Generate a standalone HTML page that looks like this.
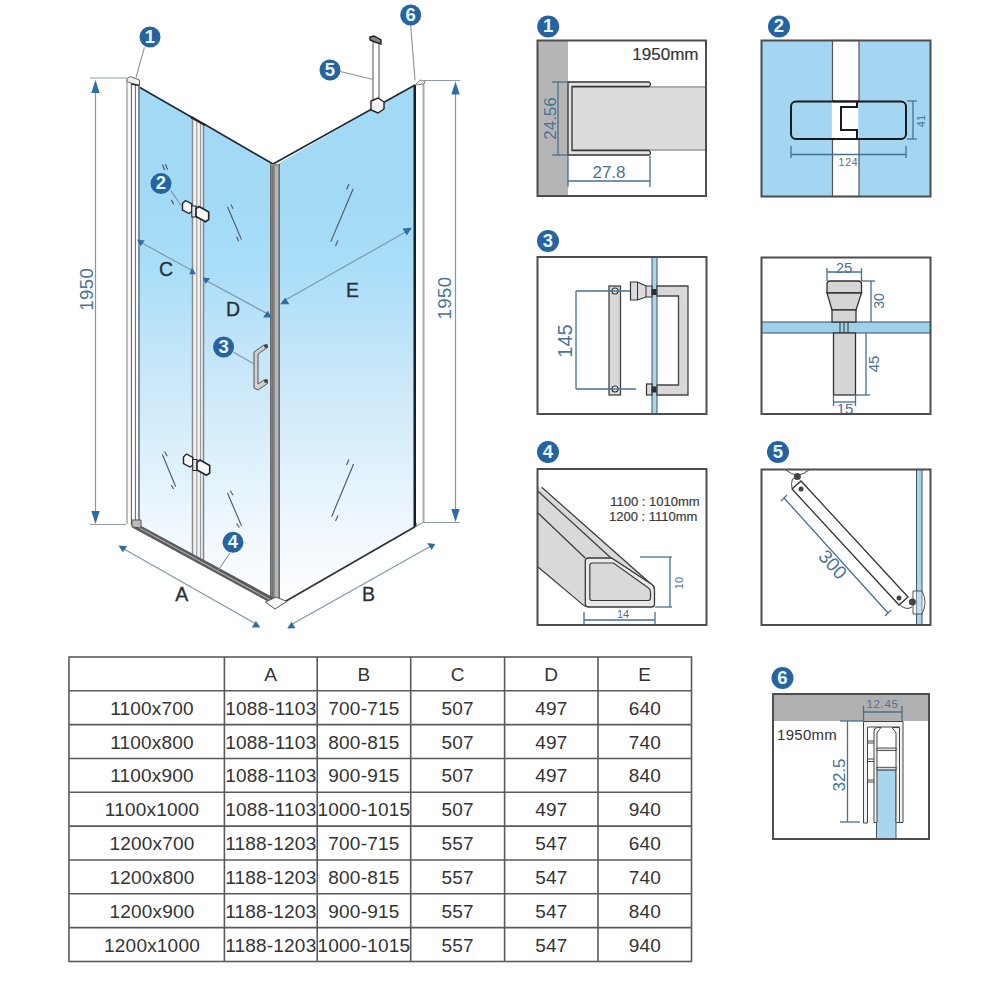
<!DOCTYPE html>
<html><head><meta charset="utf-8">
<style>
html,body{margin:0;padding:0;background:#fff;width:1000px;height:1000px;overflow:hidden}
svg{display:block;font-family:"Liberation Sans",sans-serif}
.dim{stroke:#46708f;stroke-width:1.3;fill:none}
.dimm{stroke:#7f98aa;stroke-width:1.2;fill:none}
.ah{fill:#2f6ea3}
.lab{font-size:19.5px;fill:#2a3038;stroke:#2a3038;stroke-width:0.3;text-anchor:middle}
.dt{fill:#4a7394;text-anchor:middle}
.ld{stroke:#87939b;stroke-width:1.1;fill:none}
.bd{fill:#26639f}
.bt{fill:#e8f8ff;font-weight:bold;font-size:18.5px;text-anchor:middle}
.pb{fill:none;stroke:#4d4d4d;stroke-width:2}
.tl{stroke:#5a5a5a;stroke-width:1.6}
.tt{font-size:19px;fill:#333;text-anchor:middle;letter-spacing:0.2px}
</style></head>
<body>
<svg width="1000" height="1000" viewBox="0 0 1000 1000">
<defs>
<linearGradient id="gl" gradientUnits="userSpaceOnUse" x1="0" y1="200" x2="0" y2="600">
<stop offset="0" stop-color="#a2daf5"/>
<stop offset="0.175" stop-color="#aadef8"/>
<stop offset="0.4625" stop-color="#cce8f9"/>
<stop offset="0.6625" stop-color="#dff1fc"/>
<stop offset="0.8625" stop-color="#f4f9fe"/>
<stop offset="1" stop-color="#fdfeff"/>
</linearGradient>
</defs>

<!-- ============ MAIN DIAGRAM ============ -->
<!-- glass panels -->
<polygon points="139,87 193,118 193,557 139,527" fill="url(#gl)"/>
<polygon points="204,124 271,163 271,600 204,563" fill="url(#gl)"/>
<polygon points="274,166 415,85 415,526.7 274,608" fill="url(#gl)"/>
<!-- top edges -->
<polyline points="139,87 193,118" stroke="#1f2d38" stroke-width="1.7" fill="none"/>
<polyline points="204,124 273,164 415,85" stroke="#1f2d38" stroke-width="1.7" fill="none"/>
<line x1="280" y1="604.5" x2="415" y2="526.7" stroke="#333" stroke-width="1.8"/>
<line x1="415" y1="85" x2="415" y2="527" stroke="#15202a" stroke-width="3"/>

<!-- left wall profile -->
<rect x="127" y="82" width="13" height="443" fill="#fafafa"/>
<line x1="127" y1="80" x2="127" y2="524" stroke="#a0a0a0" stroke-width="1.3"/>
<line x1="131.4" y1="84" x2="131.4" y2="525" stroke="#5a5a5a" stroke-width="1"/>
<line x1="135.4" y1="84" x2="135.4" y2="526" stroke="#666" stroke-width="1"/>
<line x1="139" y1="86" x2="139" y2="527" stroke="#4f6a7e" stroke-width="1.5"/>
<polygon points="127,78.5 130.5,76.5 139.5,80 139.5,85.5 131,83 127,81.5" fill="#f0f0f0" stroke="#666" stroke-width="1"/>
<line x1="131" y1="84" x2="139.5" y2="85.5" stroke="#333" stroke-width="1.3"/>

<!-- hinge profile -->
<polygon points="192,118 204,125 204,565 192,558" fill="#f2f2f2"/>
<line x1="192.5" y1="118" x2="192.5" y2="558" stroke="#8a8a8a" stroke-width="1.5"/>
<line x1="196.8" y1="120" x2="196.8" y2="560" stroke="#8f8f8f" stroke-width="1"/>
<line x1="200.5" y1="122" x2="200.5" y2="562" stroke="#9a9a9a" stroke-width="1.2"/>
<line x1="203.5" y1="124" x2="203.5" y2="564" stroke="#7a8894" stroke-width="1.5"/>
<line x1="191" y1="117" x2="205" y2="125" stroke="#222" stroke-width="2.5"/>

<!-- corner post -->
<rect x="270" y="164" width="10" height="438" fill="#8c8c8c"/>
<line x1="276.5" y1="166" x2="276.5" y2="602" stroke="#b4b4b4" stroke-width="3"/>
<line x1="272.5" y1="166" x2="272.5" y2="602" stroke="#737373" stroke-width="2"/>
<line x1="270.5" y1="164" x2="270.5" y2="602" stroke="#6a6a6a" stroke-width="1"/>
<line x1="279.5" y1="164" x2="279.5" y2="602" stroke="#6a6a6a" stroke-width="1"/>

<!-- right wall profile -->
<rect x="416" y="82" width="8" height="441" fill="#fff"/>
<line x1="423.5" y1="82" x2="423.5" y2="522" stroke="#aaa" stroke-width="2"/>
<polygon points="415,85 420,80 425,81 424,84" fill="#eee" stroke="#888" stroke-width="1"/>
<line x1="415" y1="527" x2="424" y2="522" stroke="#888" stroke-width="1"/>

<!-- sill (4) -->
<polygon points="133,521.5 278,600 278,607 133,528" fill="#5a5a5a"/>
<line x1="134" y1="525" x2="277" y2="603.5" stroke="#a8a8a8" stroke-width="1.2"/>
<polygon points="132,520 141,520 141,528 132,527" fill="#bbb" stroke="#555" stroke-width="1"/>
<polygon points="265.5,602 276,597 287,601.5 275,609" fill="#f6f6f6" stroke="#555" stroke-width="1"/>

<!-- hatch marks -->
<g stroke="#4b5660" stroke-width="1.1" fill="none">
<line x1="162.4" y1="164.5" x2="164.6" y2="170"/><line x1="165.4" y1="164" x2="167.6" y2="169.5"/>
<line x1="171.5" y1="199.7" x2="173.6" y2="204.2"/>
<line x1="227.5" y1="206.7" x2="241.5" y2="239.6"/><line x1="231" y1="204.4" x2="233" y2="208.9"/><line x1="236.6" y1="236.7" x2="238.7" y2="241.2"/>
<line x1="353.2" y1="188.8" x2="330.8" y2="241.6"/><line x1="346.5" y1="189.5" x2="349" y2="184"/><line x1="335.5" y1="246" x2="338" y2="240.5"/>
<line x1="162.4" y1="454.5" x2="175.7" y2="486.7"/><line x1="164.5" y1="451.5" x2="167.3" y2="456.2"/><line x1="171.3" y1="485" x2="173.6" y2="489"/>
<line x1="227.5" y1="493" x2="241.5" y2="525.9"/><line x1="230.3" y1="490.8" x2="233.1" y2="495.3"/><line x1="236.6" y1="523.6" x2="239.4" y2="527.5"/>
<line x1="353.6" y1="464" x2="331.6" y2="516.8"/><line x1="346.5" y1="465" x2="349" y2="459.5"/><line x1="335.5" y1="521" x2="338" y2="515.5"/>
</g>

<!-- hinges (2) -->
<polygon points="182.5,203.5 185.5,200.5 191.8,204.0 191.8,211.5 189.0,213.5 182.5,210.0" fill="#f6f6f6" stroke="#1f262c" stroke-width="1.4"/>
<rect x="191.8" y="206" width="4.2" height="11" fill="#e8e8e8" stroke="#1f262c" stroke-width="1"/>
<polygon points="196.0,208.5 199.0,206.5 208.7,212.0 208.7,219.5 205.5,221.8 196.0,216.5" fill="#f6f6f6" stroke="#1f262c" stroke-width="1.6"/>
<polygon points="183.5,457.0 186.5,454.0 192.8,457.5 192.8,465.0 190.0,467.0 183.5,463.5" fill="#f6f6f6" stroke="#1f262c" stroke-width="1.4"/>
<rect x="192.8" y="459.5" width="4.2" height="11" fill="#e8e8e8" stroke="#1f262c" stroke-width="1"/>
<polygon points="197.0,462.0 200.0,460.0 209.7,465.5 209.7,473.0 206.5,475.3 197.0,470.0" fill="#f6f6f6" stroke="#1f262c" stroke-width="1.6"/>

<!-- handle (3) -->
<g fill="#d0d0d0" stroke="#555" stroke-width="1">
<polygon points="254,352 264,345 268,347 258,354 258,384 264,380 268,383 258,390 254,388"/>
</g>
<circle cx="266" cy="346" r="2" fill="#444"/><circle cx="266" cy="381" r="2" fill="#444"/>

<!-- stabiliser bar (5) -->
<line x1="373" y1="42" x2="373" y2="100" stroke="#8a8a8a" stroke-width="1.5"/>
<line x1="379" y1="44" x2="379" y2="100" stroke="#8a8a8a" stroke-width="1.5"/>
<polygon points="370,37 374,36 381,40 381,44 375,42 370,40" fill="#888" stroke="#222" stroke-width="1.4"/>
<polygon points="371,101 378,98 384,102 384,109 378,113 371,110" fill="#f4f4f4" stroke="#222" stroke-width="1.4"/>

<!-- dimension lines main -->
<g class="dimm" stroke="#a9b8c2">
<line x1="90" y1="78" x2="127" y2="78" stroke="#8f9ea6"/>
<line x1="90" y1="524.5" x2="126" y2="524.5" stroke="#8f9ea6"/>
<line x1="424" y1="80.5" x2="460" y2="80.5" stroke="#8f9ea6"/>
<line x1="424" y1="522.5" x2="460" y2="522.5" stroke="#8f9ea6"/>
</g>
<g class="dimm">
<line x1="95.5" y1="90" x2="95.5" y2="512"/>
<line x1="455.5" y1="92" x2="455.5" y2="510"/>
<line x1="124" y1="549" x2="256" y2="624"/>
<line x1="291.5" y1="624.5" x2="431" y2="546"/>
<line x1="142" y1="243" x2="192" y2="270.5"/>
<line x1="207" y1="281" x2="267" y2="313.5"/>
<line x1="284.5" y1="300.5" x2="406.5" y2="231.5"/>
</g>
<g class="ah">
<polygon points="95.5,80 91.3,93 99.7,93"/>
<polygon points="95.5,524 91.3,511 99.7,511"/>
<polygon points="455.5,81.5 451.3,94.5 459.7,94.5"/>
<polygon points="455.5,522 451.3,509 459.7,509"/>
</g>
<g id="arrows" class="ah"><polygon points="118.4,545.6 127.2,546.2 122.8,552.2"/><polygon points="255.9,620.9 251.8,627.6 260.3,627.6"/><polygon points="291.6,621.8 287.2,628.6 295.4,628.2"/><polygon points="427.1,543 435.2,544.1 431.7,550"/><polygon points="402.6,228.6 411.8,227.8 406.8,235.4"/><polygon points="280.2,304.2 289.4,304.2 285.2,297.4"/><polygon points="137,239.6 144.6,240.5 140.8,246.3"/><polygon points="189.2,274.2 195.9,274.2 192.1,267.5"/><polygon points="202.7,277.4 210.2,278.3 205.6,284.1"/><polygon points="263,317.4 271.5,317.4 267.7,310.7"/></g>

<!-- labels -->
<text class="lab" x="181.8" y="600.5">A</text>
<text class="lab" x="368.5" y="600.6">B</text>
<text class="lab" x="166" y="276">C</text>
<text class="lab" x="233" y="316.2">D</text>
<text class="lab" x="352.4" y="296.5">E</text>
<text class="dt" font-size="18.5" letter-spacing="0.4" transform="translate(93.3,289.3) rotate(-90)">1950</text>
<text class="dt" font-size="18.5" letter-spacing="0.4" transform="translate(450.8,298) rotate(-90)">1950</text>

<!-- leaders -->
<g class="ld">
<line x1="144.4" y1="47.3" x2="136" y2="77.4"/>
<line x1="170.8" y1="190.6" x2="182" y2="206.7"/>
<line x1="233.5" y1="352.3" x2="254.2" y2="364"/>
<line x1="229.6" y1="553.3" x2="218.6" y2="569.8"/>
<line x1="340.3" y1="71.5" x2="372.2" y2="79.2"/>
<line x1="410.7" y1="25.3" x2="415" y2="80.3"/>
</g>

<!-- badges main -->
<g>
<circle class="bd" cx="150" cy="37" r="10.5"/><text class="bt" x="150" y="42.5">1</text>
<circle class="bd" cx="161" cy="183.6" r="10.5"/><text class="bt" x="161" y="189.1">2</text>
<circle class="bd" cx="223.6" cy="347" r="10.5"/><text class="bt" x="223.6" y="352.5">3</text>
<circle class="bd" cx="233" cy="542.3" r="10.5"/><text class="bt" x="233" y="547.8">4</text>
<circle class="bd" cx="330" cy="70" r="10.5"/><text class="bt" x="330" y="75.5">5</text>
<circle class="bd" cx="410.7" cy="15" r="10.5"/><text class="bt" x="410.7" y="20.5">6</text>
</g>

<!-- ============ DETAIL PANELS ============ -->
<!-- badges -->
<g>
<circle class="bd" cx="548.2" cy="26.5" r="11"/><text class="bt" x="548.2" y="32.0">1</text>
<circle class="bd" cx="779" cy="26.5" r="11"/><text class="bt" x="779" y="32.0">2</text>
<circle class="bd" cx="548" cy="241" r="11"/><text class="bt" x="548" y="246.5">3</text>
<circle class="bd" cx="548" cy="452" r="11"/><text class="bt" x="548" y="457.5">4</text>
<circle class="bd" cx="778" cy="452" r="11"/><text class="bt" x="778" y="457.5">5</text>
<circle class="bd" cx="782.5" cy="678" r="11"/><text class="bt" x="782.5" y="683.5">6</text>
</g>

<!-- PANEL 1 -->
<g id="p1">
<rect x="537.5" y="40.5" width="168.5" height="155.5" fill="#fff"/>
<rect x="537.5" y="40.5" width="30.5" height="155.5" fill="#b5b5b5"/>
<rect x="572" y="87" width="134" height="63" fill="#dcdcdc"/>
<line x1="572" y1="87" x2="706" y2="87" stroke="#999" stroke-width="1.5"/>
<line x1="572" y1="150" x2="706" y2="150" stroke="#999" stroke-width="1.5"/>
<path d="M568,82 L649,82 Q652,84 649,86.5 L572,86.5 L572,150.5 L649,150.5 Q652,153 649,155 L568,155 Z" fill="#e4e4e4" stroke="#333" stroke-width="1.3"/>
<text x="698.5" y="59.8" font-size="17" fill="#333" stroke="#333" stroke-width="0.15" text-anchor="end">1950mm</text>
<line x1="558" y1="82" x2="558" y2="155" class="dim"/>
<line x1="552" y1="82" x2="568" y2="82" class="dim"/>
<line x1="552" y1="155" x2="568" y2="155" class="dim"/>
<text class="dt" font-size="17" transform="translate(556,118.5) rotate(-90)">24.56</text>
<line x1="568" y1="181" x2="650" y2="181" class="dim"/>
<line x1="568" y1="156" x2="568" y2="187" class="dim"/>
<line x1="650" y1="156" x2="650" y2="187" class="dim"/>
<text class="dt" font-size="17" x="609" y="178">27.8</text>
<rect x="537.5" y="40.5" width="168.5" height="155.5" class="pb"/>
</g>

<!-- PANEL 2 -->
<g id="p2">
<rect x="761.5" y="40.5" width="169" height="156" fill="#a3d6f0"/>
<rect x="832.5" y="40.5" width="26.5" height="156" fill="#fff" stroke="#555" stroke-width="1.2"/>
<rect x="791" y="101.5" width="115" height="37.5" rx="5" ry="5" fill="#a3d6f0" stroke="#1a1a1a" stroke-width="2"/>
<rect x="831.8" y="102.5" width="26.5" height="35.5" fill="#fff"/>
<line x1="832.5" y1="101.5" x2="859" y2="101.5" stroke="#1a1a1a" stroke-width="2"/>
<line x1="832.5" y1="139" x2="859" y2="139" stroke="#1a1a1a" stroke-width="2"/>
<path d="M857,101.5 L857,107 L841,107 L841,130 L857,130 L857,139" fill="none" stroke="#1a1a1a" stroke-width="2"/>
<g class="dim">
<line x1="913" y1="101" x2="913" y2="139"/><line x1="907" y1="101" x2="917" y2="101"/><line x1="907" y1="139" x2="917" y2="139"/>
<line x1="791" y1="154.5" x2="906" y2="154.5"/><line x1="791" y1="146" x2="791" y2="158"/><line x1="906" y1="146" x2="906" y2="158"/>
</g>
<text class="dt" font-size="11" transform="translate(925,121) rotate(-90)">41</text>
<text font-size="10.5" fill="#666" letter-spacing="0.8" text-anchor="middle" x="848.5" y="166">124</text>
<rect x="761.5" y="40.5" width="169" height="156" class="pb"/>
</g>

<!-- PANEL 3 left -->
<g id="p3">
<rect x="537.5" y="257" width="169" height="157" fill="#fff"/>
<rect x="652" y="257" width="5" height="157" fill="#a8d6ef" stroke="#456" stroke-width="1"/>
<rect x="609" y="286" width="11.5" height="109" fill="#d8d8d8" stroke="#444" stroke-width="1.3"/>
<circle cx="615" cy="291" r="3" fill="#fff" stroke="#333" stroke-width="1.2"/>
<circle cx="615" cy="389" r="3" fill="#fff" stroke="#333" stroke-width="1.2"/>
<path d="M657,286 L688,286 L688,395 L657,395 L657,385 L678.5,385 L678.5,296 L657,296 Z" fill="#d8d8d8" stroke="#444" stroke-width="1.3"/>
<polygon points="630.5,282 637.5,282 646,286 652,286 652,297 646,297 637.5,300 630.5,300" fill="#dcdcdc" stroke="#333" stroke-width="1.2"/>
<line x1="637.5" y1="282" x2="637.5" y2="300" stroke="#333" stroke-width="1"/>
<line x1="646" y1="286" x2="646" y2="297" stroke="#333" stroke-width="1"/>
<rect x="651.5" y="289" width="5" height="6" fill="#2a2f33"/>
<rect x="646.5" y="384" width="5.5" height="11" fill="#dcdcdc" stroke="#333" stroke-width="1.2"/>
<rect x="651.5" y="386.5" width="5" height="6" fill="#2a2f33"/>
<g class="dim">
<line x1="576" y1="291" x2="576" y2="389"/>
<line x1="576" y1="291" x2="630" y2="291"/>
<line x1="576" y1="389" x2="636" y2="389"/>
</g>
<text class="dt" font-size="20" transform="translate(571.5,341) rotate(-90)">145</text>
<rect x="537.5" y="257" width="169" height="157" class="pb"/>
</g>

<!-- PANEL 3 right -->
<g id="p3r">
<rect x="761.5" y="257.5" width="169" height="156.5" fill="#fff"/>
<rect x="761.5" y="322" width="169" height="11" fill="#9fd0ec" stroke="#3a4a58" stroke-width="1"/>
<path d="M827,293 L827,284 Q827,281 830,281 L858.5,281 Q861.5,281 861.5,284 L861.5,293 Z" fill="#d5d5d5" stroke="#333" stroke-width="1.3"/>
<polygon points="827,293 861.5,293 856,310 832,310" fill="#d5d5d5" stroke="#333" stroke-width="1.3"/>
<rect x="832" y="310" width="24" height="12" fill="#d5d5d5" stroke="#333" stroke-width="1.3"/>
<g stroke="#333" stroke-width="1"><line x1="840" y1="322" x2="840" y2="333"/><line x1="844" y1="322" x2="844" y2="333"/><line x1="848" y1="322" x2="848" y2="333"/></g>
<rect x="833.5" y="333" width="22" height="62" fill="#d5d5d5" stroke="#333" stroke-width="1.3"/>
<g class="dim">
<line x1="827" y1="272" x2="861.5" y2="272"/><line x1="827" y1="268" x2="827" y2="281"/><line x1="861.5" y1="268" x2="861.5" y2="281"/>
<line x1="871" y1="281" x2="871" y2="322"/><line x1="861.5" y1="281" x2="875" y2="281"/>
<line x1="866" y1="333" x2="866" y2="395"/><line x1="855" y1="395" x2="870" y2="395"/>
<line x1="833.5" y1="402" x2="855.5" y2="402"/><line x1="833.5" y1="395" x2="833.5" y2="406"/><line x1="855.5" y1="395" x2="855.5" y2="406"/>
</g>
<text class="dt" font-size="15" x="844" y="273">25</text>
<text class="dt" font-size="14" transform="translate(884,301) rotate(-90)">30</text>
<text class="dt" font-size="15" transform="translate(879,364) rotate(-90)">45</text>
<text class="dt" font-size="15" x="845" y="414">15</text>
<rect x="761.5" y="257.5" width="169" height="156.5" class="pb"/>
</g>

<!-- PANEL 4 -->
<g id="p4">
<rect x="537.5" y="469" width="169" height="156" fill="#fff"/>
<polygon points="538,486 654.5,586 654.5,606.5 585.5,606.5 538,567" fill="#d9d9d9"/>
<polyline points="541.6,487.3 654.4,586.9" stroke="#3a3a3a" stroke-width="1.3" fill="none"/>
<polyline points="538,491.2 611,558" stroke="#3a3a3a" stroke-width="1.2" fill="none"/>
<polyline points="538,513 585.2,558" stroke="#3a3a3a" stroke-width="1.2" fill="none"/>
<polyline points="538,567 585.2,606.6" stroke="#3a3a3a" stroke-width="1.2" fill="none"/>
<path d="M588.5,558 L611.5,558 L652,584.5 Q654.5,586.5 654.5,590 L654.5,604 Q654.5,607 651.5,607 L588.5,607 Q585.3,607 585.3,604 L585.3,561 Q585.3,558 588.5,558 Z" fill="#e9e9e9" stroke="#3a3a3a" stroke-width="1.3"/>
<path d="M592,563 L613.5,563 L648.5,588 Q650.5,589.5 650.5,592 L650.5,598 Q650.5,600.5 648,600.5 L592,600.5 Q589.8,600.5 589.8,598 L589.8,565.5 Q589.8,563 592,563 Z" fill="#d9d9d9" stroke="#3a3a3a" stroke-width="1.2"/>
<text x="699.6" y="506.3" font-size="13" fill="#3a3a3a" stroke="#3a3a3a" stroke-width="0.2" text-anchor="end">1100 : 1010mm</text>
<text x="697.4" y="521.4" font-size="13" fill="#3a3a3a" stroke="#3a3a3a" stroke-width="0.2" text-anchor="end">1200 : 1110mm</text>
<g class="dim">
<line x1="670" y1="557" x2="670" y2="607"/><line x1="640" y1="557" x2="672" y2="557"/><line x1="655" y1="607" x2="672" y2="607"/>
<line x1="584" y1="620" x2="655" y2="620"/><line x1="584" y1="612" x2="584" y2="624"/><line x1="655" y1="612" x2="655" y2="624"/>
</g>
<text class="dt" font-size="11" transform="translate(683,583) rotate(-90)">10</text>
<text class="dt" font-size="11" x="623" y="618">14</text>
<rect x="537.5" y="469" width="169" height="156" class="pb"/>
</g>

<!-- PANEL 5 -->
<g id="p5">
<rect x="761.5" y="469.5" width="169" height="155.5" fill="#fff"/>
<rect x="916.5" y="469.5" width="5.5" height="155.5" fill="#a8d6ef" stroke="#456" stroke-width="1"/>
<path d="M786,470 Q797,480 809,470" fill="#fff" stroke="#444" stroke-width="1"/>
<path d="M792,488 Q790,478 797,476" fill="none" stroke="#444" stroke-width="1"/>
<polygon points="792,489 801,481 908,597 899,605" fill="#fff" stroke="#333" stroke-width="1.3"/>
<circle cx="797.4" cy="476.4" r="3.5" fill="#444"/>
<circle cx="801" cy="489" r="2.5" fill="#444"/>
<circle cx="899" cy="598" r="2.5" fill="#444"/>
<path d="M899,604 Q906,611 912,607" fill="none" stroke="#444" stroke-width="1"/>
<path d="M913,591 L922,591 Q928,602 922,614 L913,614 Z" fill="rgba(240,240,240,0.35)" stroke="#555" stroke-width="1"/>
<circle cx="912.4" cy="602" r="3.5" fill="#444"/>
<g class="dim">
<line x1="784" y1="498" x2="888" y2="613"/>
<line x1="781" y1="501" x2="787" y2="495"/>
<line x1="885" y1="616" x2="891" y2="610"/>
</g>
<text class="dt" font-size="19" transform="translate(828,569) rotate(47.5)">300</text>
<rect x="761.5" y="469.5" width="169" height="155.5" class="pb"/>
</g>

<!-- PANEL 6 -->
<g id="p6">
<rect x="773" y="694" width="156" height="145" fill="#fff"/>
<rect x="773" y="694" width="156" height="27" fill="#b0b0b0"/>
<rect x="876.5" y="770" width="19.5" height="69" fill="#a8d6ef" stroke="#456" stroke-width="1"/>
<path d="M863.5,721.5 L903,721.5 L903,822.5 L899.5,822.5 L899.5,727 L867.5,727 L867.5,823 L863.5,823 Z" fill="#f2f2f2" stroke="#444" stroke-width="1"/>
<path d="M874,822.5 L874,731 Q874,727.5 877.5,727.5 L881,727.5 Q878,731 877,733 L877,822.5 Z" fill="#f2f2f2" stroke="#444" stroke-width="1"/>
<path d="M896,822.5 L896,733 Q895,731 892,727.5 L899.5,727.5 L899.5,822.5 Z" fill="#f2f2f2" stroke="#444" stroke-width="1"/>
<rect x="877" y="748" width="19" height="2.6" fill="#ddd" stroke="#444" stroke-width="0.9"/>
<rect x="877" y="767.3" width="19" height="2.6" fill="#ddd" stroke="#444" stroke-width="0.9"/>
<g stroke="#444" stroke-width="1"><line x1="867.5" y1="741" x2="874" y2="741"/><line x1="867.5" y1="743" x2="874" y2="743"/>
<line x1="867.5" y1="759" x2="874" y2="759"/><line x1="867.5" y1="761.5" x2="874" y2="761.5"/>
<line x1="867.5" y1="780" x2="874" y2="780"/><line x1="867.5" y1="782" x2="874" y2="782"/></g>
<text x="777" y="739.5" font-size="15" fill="#333" letter-spacing="0.3">1950mm</text>
<g class="dim">
<line x1="863.5" y1="712" x2="902" y2="712"/><line x1="863.5" y1="706" x2="863.5" y2="721"/><line x1="902" y1="706" x2="902" y2="721"/>
<line x1="847.5" y1="721" x2="847.5" y2="822"/><line x1="840" y1="721" x2="863" y2="721"/><line x1="840" y1="822" x2="860" y2="822"/>
</g>
<text class="dt" font-size="11.5" letter-spacing="0.6" x="882.5" y="708">12.45</text>
<text class="dt" font-size="17" transform="translate(845,775) rotate(-90)">32.5</text>
<rect x="773" y="694" width="156" height="145" class="pb"/>
</g>

<!-- ============ TABLE ============ -->
<g>
<rect x="69" y="657" width="622.5" height="304.5" fill="none" class="tl"/>
<g class="tl">
<line x1="69" y1="690.8" x2="691.5" y2="690.8"/>
<line x1="69" y1="724.6" x2="691.5" y2="724.6"/>
<line x1="69" y1="758.5" x2="691.5" y2="758.5"/>
<line x1="69" y1="792.3" x2="691.5" y2="792.3"/>
<line x1="69" y1="826.1" x2="691.5" y2="826.1"/>
<line x1="69" y1="860" x2="691.5" y2="860"/>
<line x1="69" y1="893.8" x2="691.5" y2="893.8"/>
<line x1="69" y1="927.6" x2="691.5" y2="927.6"/>
<line x1="224.4" y1="657" x2="224.4" y2="961.5"/>
<line x1="317.2" y1="657" x2="317.2" y2="961.5"/>
<line x1="410.7" y1="657" x2="410.7" y2="961.5"/>
<line x1="504.6" y1="657" x2="504.6" y2="961.5"/>
<line x1="598" y1="657" x2="598" y2="961.5"/>
</g>
<g id="tbody"><text class="tt" x="270.8" y="680.9">A</text><text class="tt" x="363.9" y="680.9">B</text><text class="tt" x="457.6" y="680.9">C</text><text class="tt" x="551.3" y="680.9">D</text><text class="tt" x="644.8" y="680.9">E</text><text class="tt" x="152.0" y="714.8">1100x700</text><text class="tt" x="270.8" y="714.8">1088-1103</text><text class="tt" x="363.9" y="714.8">700-715</text><text class="tt" x="457.6" y="714.8">507</text><text class="tt" x="551.3" y="714.8">497</text><text class="tt" x="644.8" y="714.8">640</text><text class="tt" x="152.0" y="748.6">1100x800</text><text class="tt" x="270.8" y="748.6">1088-1103</text><text class="tt" x="363.9" y="748.6">800-815</text><text class="tt" x="457.6" y="748.6">507</text><text class="tt" x="551.3" y="748.6">497</text><text class="tt" x="644.8" y="748.6">740</text><text class="tt" x="152.0" y="782.4">1100x900</text><text class="tt" x="270.8" y="782.4">1088-1103</text><text class="tt" x="363.9" y="782.4">900-915</text><text class="tt" x="457.6" y="782.4">507</text><text class="tt" x="551.3" y="782.4">497</text><text class="tt" x="644.8" y="782.4">840</text><text class="tt" x="152.0" y="816.2">1100x1000</text><text class="tt" x="270.8" y="816.2">1088-1103</text><text class="tt" x="363.9" y="816.2">1000-1015</text><text class="tt" x="457.6" y="816.2">507</text><text class="tt" x="551.3" y="816.2">497</text><text class="tt" x="644.8" y="816.2">940</text><text class="tt" x="152.0" y="850.1">1200x700</text><text class="tt" x="270.8" y="850.1">1188-1203</text><text class="tt" x="363.9" y="850.1">700-715</text><text class="tt" x="457.6" y="850.1">557</text><text class="tt" x="551.3" y="850.1">547</text><text class="tt" x="644.8" y="850.1">640</text><text class="tt" x="152.0" y="883.9">1200x800</text><text class="tt" x="270.8" y="883.9">1188-1203</text><text class="tt" x="363.9" y="883.9">800-815</text><text class="tt" x="457.6" y="883.9">557</text><text class="tt" x="551.3" y="883.9">547</text><text class="tt" x="644.8" y="883.9">740</text><text class="tt" x="152.0" y="917.8">1200x900</text><text class="tt" x="270.8" y="917.8">1188-1203</text><text class="tt" x="363.9" y="917.8">900-915</text><text class="tt" x="457.6" y="917.8">557</text><text class="tt" x="551.3" y="917.8">547</text><text class="tt" x="644.8" y="917.8">840</text><text class="tt" x="152.0" y="951.6">1200x1000</text><text class="tt" x="270.8" y="951.6">1188-1203</text><text class="tt" x="363.9" y="951.6">1000-1015</text><text class="tt" x="457.6" y="951.6">557</text><text class="tt" x="551.3" y="951.6">547</text><text class="tt" x="644.8" y="951.6">940</text></g>
</g>
</svg>
</body></html>
